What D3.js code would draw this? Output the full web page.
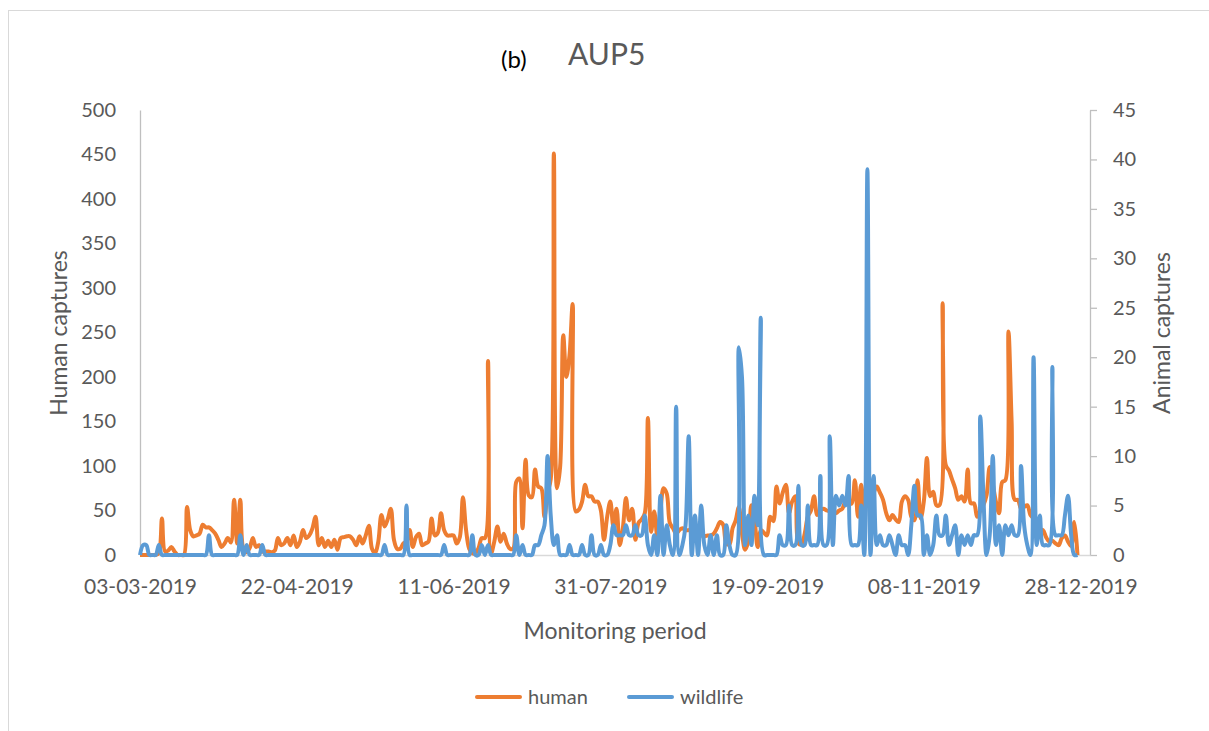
<!DOCTYPE html>
<html><head><meta charset="utf-8">
<script src="https://cdn.jsdelivr.net/npm/d3@7"></script>
<style>
body{margin:0;background:#fff}
text{font-family:Lato,"Open Sans",sans-serif}
</style>
</head><body>
<svg id="c" width="1209" height="731"></svg>
<script>
// ---------- data ----------
const titleTag = "(b)";
const titleText = "AUP5";
const startDate = "2019-03-03";
const tickDays = [0, 50, 100, 150, 200, 250, 300];
const tickLabels = ["03-03-2019","22-04-2019","11-06-2019","31-07-2019","19-09-2019","08-11-2019","28-12-2019"];
const humanTicks = [0,50,100,150,200,250,300,350,400,450,500];
const animalTicks = [0,5,10,15,20,25,30,35,40,45];
const seriesNames = ["human","wildlife"];

// daily human captures from 03-03-2019
const human = [
 0,0,0,0,0,0,2,41,4,5,
 9,4,0,0,0,54,28,21,22,24,
 34,31,31,28,24,17,9,13,19,14,
 62,13,62,6,3,8,19,9,11,4,
 4,4,3,5,19,11,13,19,11,22,
 9,15,28,19,22,30,43,11,19,9,
 16,9,17,6,19,20,21,21,17,11,
 21,13,22,33,7,2,15,45,32,40,
 52,17,7,7,13,15,28,9,20,24,
 11,13,15,41,22,25,47,28,22,22,
 22,13,20,65,28,7,2,2,8,19,
 19,218,2,15,32,15,24,13,7,7,
 82,86,30,107,67,65,96,77,75,43,
 70,85,451,75,99,247,200,225,282,49,
 51,60,79,66,66,60,60,50,17,43,
 60,32,52,11,30,64,39,52,17,36,
 40,47,154,26,49,21,50,75,69,36,
 30,24,28,30,28,28,30,28,24,22,
 21,22,22,24,30,37,34,13,12,30,
 39,54,24,6,15,56,40,9,28,25,
 22,43,38,77,58,70,79,47,60,66,
 13,12,24,43,50,66,45,50,52,50,
 49,48,47,50,52,60,58,58,84,43,
 79,52,73,62,70,77,70,62,47,39,
 45,40,37,60,66,62,43,39,84,41,
 60,109,66,71,56,56,283,101,95,85,
 75,62,66,60,96,58,58,43,50,56,
 67,99,80,60,47,82,84,251,150,62,
 62,52,54,56,45,41,28,28,28,20,
 15,16,13,11,19,22,15,10,37,0
];
// daily wildlife captures from 03-03-2019
const wildlife = [
 0,1,1,0,0,0,1,0,0,0,
 0,0,0,0,0,0,0,0,0,0,
 0,0,2,0,0,0,0,0,0,0,
 0,0,2,0,1,0,0,0,0,1,
 0,0,0,0,0,0,0,0,0,0,
 0,0,0,0,0,0,0,0,0,0,
 0,0,0,0,0,0,0,0,0,0,
 0,0,0,0,0,0,0,0,1,0,
 0,0,0,0,0,5,0,0,0,0,
 0,0,0,0,0,0,0,1,0,0,
 0,0,0,0,0,0,2,0,0,1,
 0,1,0,0,0,0,0,0,0,0,
 2,0,1,0,0,0,1,1,2,3,
 10,4,1,2,0,0,0,1,0,0,
 0,1,0,0,2,0,0,1,0,0,
 1,3,2,2,2,3,2,2,3,2,
 2,4,1,0,2,0,6,0,3,1,
 0,15,0,1,3,12,0,4,0,5,
 1,0,2,0,2,0,0,3,1,0,
 0,21,18,1,4,1,6,3,24,0,
 0,0,0,0,2,1,1,5,1,1,
 7,1,1,5,1,1,1,8,1,1,
 12,1,6,5,6,5,8,1,1,1,
 5,0,39,0,8,1,2,1,1,2,
 1,0,2,1,1,0,3,7,4,4,
 0,2,0,1,4,2,2,4,1,2,
 3,0,2,1,2,1,2,2,14,6,
 0,2,10,1,3,0,3,2,3,2,
 2,9,3,1,0,20,1,4,1,1,
 1,19,2,2,2,4,6,2,0,0
];

// ---------- chart ----------
const colors = {human:"#ED7D31", wildlife:"#5B9BD5", axis:"#BFBFBF", text:"#595959"};
const svg = d3.select("#c");

svg.append("rect").attr("x",8.5).attr("y",10.5).attr("width",1300).attr("height",800)
  .attr("fill","#fff").attr("stroke","#D9D9D9").attr("stroke-width",1);

const x = d3.scaleLinear().domain([0, 303]).range([140, 1090]);
const yL = d3.scaleLinear().domain([0, 500]).range([555, 110]);
const yR = d3.scaleLinear().domain([0, 45]).range([555, 110]);

// left axis
const gL = svg.append("g").attr("transform","translate(140,0)")
  .call(d3.axisLeft(yL).tickValues(humanTicks).tickSize(0).tickSizeOuter(0).tickPadding(24));
gL.select(".domain").attr("stroke",colors.axis).attr("stroke-width",1.3);
gL.selectAll("text").attr("font-size",20).attr("fill",colors.text).attr("font-family","Lato");

// right axis
const gR = svg.append("g").attr("transform","translate(1090,0)")
  .call(d3.axisRight(yR).tickValues(animalTicks).tickSize(7).tickSizeOuter(0).tickPadding(16));
gR.select(".domain").attr("stroke",colors.axis).attr("stroke-width",1.3);
gR.selectAll(".tick line").attr("stroke",colors.axis).attr("stroke-width",1.3);
gR.selectAll("text").attr("font-size",20).attr("fill",colors.text).attr("font-family","Lato");

// bottom axis
const gB = svg.append("g").attr("transform","translate(0,555)")
  .call(d3.axisBottom(x).tickValues(tickDays).tickFormat((d,i)=>tickLabels[i]).tickSize(0).tickSizeOuter(0).tickPadding(24));
gB.select(".domain").attr("stroke","#D9D9D9").attr("stroke-width",1.5);
gB.selectAll("text").attr("font-size",21).attr("fill",colors.text).attr("font-family","Lato");

// lines
const lineH = d3.line().x((d,i)=>x(i)).y(d=>yL(d)).curve(d3.curveCatmullRom.alpha(0.5));
const lineW = d3.line().x((d,i)=>x(i)).y(d=>yR(d)).curve(d3.curveCatmullRom.alpha(0.5));
svg.append("path").datum(human).attr("d",lineH).attr("fill","none")
  .attr("stroke",colors.human).attr("stroke-width",4).attr("stroke-linejoin","round");
svg.append("path").datum(wildlife).attr("d",lineW).attr("fill","none")
  .attr("stroke",colors.wildlife).attr("stroke-width",4).attr("stroke-linejoin","round");

// titles
svg.append("text").attr("x",501).attr("y",68).attr("font-size",24).attr("fill","#000").text(titleTag);
svg.append("text").attr("x",568).attr("y",65).attr("font-size",30).attr("fill",colors.text).text(titleText);

svg.append("text").attr("transform","translate(67,333) rotate(-90)").attr("text-anchor","middle")
  .attr("font-size",23).attr("fill",colors.text).text("Human captures");
svg.append("text").attr("transform","translate(1170,333) rotate(-90)").attr("text-anchor","middle")
  .attr("font-size",23).attr("fill",colors.text).text("Animal captures");
svg.append("text").attr("x",615).attr("y",639).attr("text-anchor","middle")
  .attr("font-size",23).attr("fill",colors.text).text("Monitoring period");

// legend
const leg = [{name:seriesNames[0], c:colors.human, x0:477},{name:seriesNames[1], c:colors.wildlife, x0:629}];
const lg = svg.append("g");
leg.forEach(l=>{
  lg.append("line").attr("x1",l.x0).attr("x2",l.x0+43).attr("y1",697).attr("y2",697)
    .attr("stroke",l.c).attr("stroke-width",4).attr("stroke-linecap","round");
  lg.append("text").attr("x",l.x0+51).attr("y",704).attr("font-size",20).attr("fill",colors.text).text(l.name);
});
</script>
</body></html>
